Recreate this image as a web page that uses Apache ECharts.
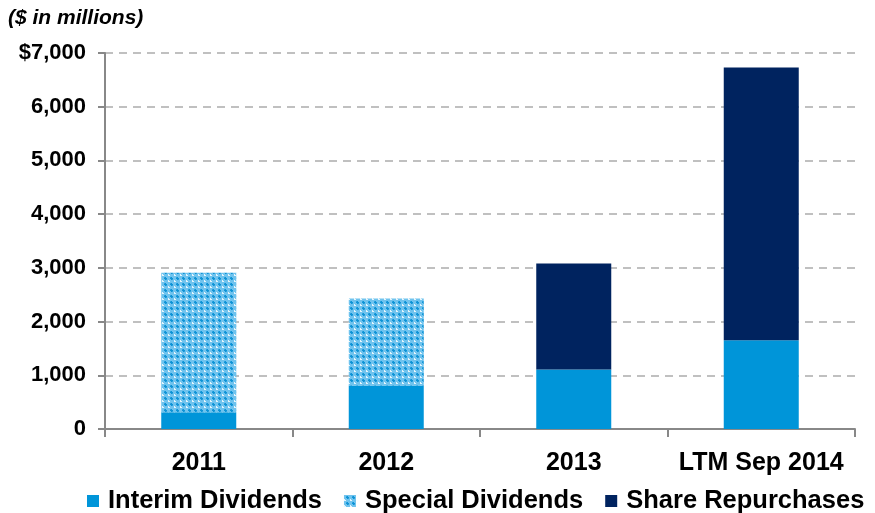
<!DOCTYPE html>
<html>
<head>
<meta charset="utf-8">
<script src="https://cdn.jsdelivr.net/npm/echarts@6/dist/echarts.min.js"></script>
<style>
  html, body { margin: 0; padding: 0; background: #fff; }
  #chart-container { width: 875px; height: 513px; }
</style>
</head>
<body>
<div id="chart-container"></div>
<script>
  const categories = ["2011", "2012", "2013", "LTM Sep 2014"];
  const interimDividends = [313, 812, 1110, 1651];
  const specialDividends = [2594, 1617, 0, 0];
  const shareRepurchases = [0, 0, 1972, 5080];

  // small checkered tile for the special dividends fill
  function makePattern() {
    const c = document.createElement("canvas");
    c.width = 6;
    c.height = 6;
    const ctx = c.getContext("2d");
    ctx.fillStyle = "#6fc3ee";
    ctx.fillRect(0, 0, 6, 6);
    ctx.fillStyle = "#0e93d6";
    ctx.fillRect(3, 1, 1, 3);
    ctx.fillRect(2, 2, 3, 1);
    ctx.fillStyle = "#2ea4e0";
    ctx.fillRect(2, 1, 1, 1);
    ctx.fillRect(4, 3, 1, 1);
    ctx.fillStyle = "#e6f5fc";
    ctx.fillRect(0, 5, 1, 1);
    ctx.fillRect(0, 4, 1, 1);
    ctx.fillRect(1, 5, 1, 1);
    return c;
  }

  var dom = document.getElementById("chart-container");
  var myChart = echarts.init(dom, null, {
    renderer: "canvas",
    useDirtyRect: false,
  });

  const font = "Liberation Sans";
  var option;

  option = {
    animation: false,
    textStyle: { fontFamily: font, color: "#000" },
    title: {
      text: "($ in millions)",
      left: 3,
      top: 3,
      textStyle: {
        fontFamily: font,
        fontSize: 21,
        fontWeight: "bold",
        fontStyle: "italic",
        color: "#000",
      },
    },
    legend: {
      top: 483,
      left: 82,
      icon: "rect",
      itemWidth: 12,
      itemHeight: 12,
      itemGap: 22,
      textStyle: {
        fontFamily: font,
        fontSize: 25.5,
        fontWeight: "bold",
        color: "#000",
        padding: [0, 0, 0, 4],
      },
      data: ["Interim Dividends", "Special Dividends", "Share Repurchases"],
    },
    grid: {
      left: 105,
      right: 20,
      top: 53,
      bottom: 84,
      containLabel: false,
    },
    xAxis: {
      type: "category",
      data: categories,
      axisLine: { lineStyle: { color: "#888", width: 2 } },
      axisTick: { show: true, length: 8, lineStyle: { color: "#888", width: 2 } },
      axisLabel: {
        interval: 0,
        margin: 22,
        fontFamily: font,
        fontSize: 25,
        fontWeight: "bold",
        color: "#000",
      },
    },
    yAxis: {
      type: "value",
      min: 0,
      max: 7000,
      interval: 1000,
      axisLine: { show: true, lineStyle: { color: "#888", width: 2 } },
      axisTick: { show: true, length: 7, lineStyle: { color: "#888", width: 2 } },
      splitLine: {
        lineStyle: { color: "#c0c0c0", width: 2, type: [8, 6] },
      },
      axisLabel: {
        margin: 19,
        fontFamily: font,
        fontSize: 22,
        fontWeight: "bold",
        color: "#000",
        formatter: function (v) {
          const s = v.toLocaleString("en-US");
          return v === 7000 ? "$" + s : s;
        },
      },
    },
    series: [
      {
        name: "Interim Dividends",
        type: "bar",
        stack: "total",
        barWidth: "40%",
        data: interimDividends,
        itemStyle: { color: "#0095d9" },
      },
      {
        name: "Special Dividends",
        type: "bar",
        stack: "total",
        data: specialDividends,
        itemStyle: { color: { image: makePattern(), repeat: "repeat" } },
      },
      {
        name: "Share Repurchases",
        type: "bar",
        stack: "total",
        data: shareRepurchases,
        itemStyle: { color: "#00235f" },
      },
    ],
  };

  if (option && typeof option === "object") {
    myChart.setOption(option);
  }

  window.addEventListener("resize", myChart.resize);
</script>
</body>
</html>
